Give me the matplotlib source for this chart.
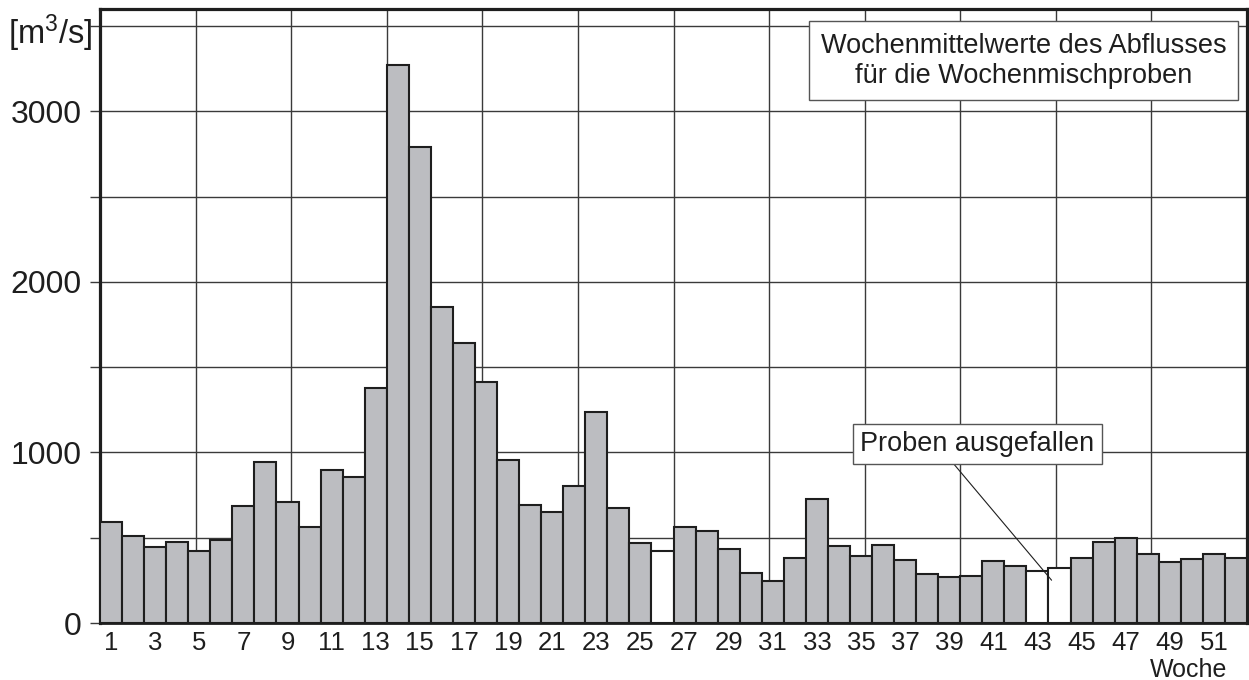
import matplotlib
matplotlib.use("Agg")
import matplotlib.pyplot as plt
import numpy as np

plt.rcParams['font.family'] = ['Liberation Sans', 'DejaVu Sans']
plt.rcParams['mathtext.fontset'] = 'custom'
plt.rcParams['mathtext.rm'] = 'Liberation Sans'
plt.rcParams['mathtext.it'] = 'Liberation Sans'

# Data
weeks = list(range(1, 53))
discharge = [593, 513, 444, 476, 425, 487, 685, 945, 710, 562,
             895, 854, 1380, 3273, 2791, 1852, 1641, 1412, 953, 689,
             652, 803, 1239, 672, 472, 421, 560, 538, 433, 296,
             247, 380, 728, 454, 392, 456, 372, 286, 268, 274,
             364, 337, 305, 321, 384, 474, 499, 407, 360, 376,
             407, 380]
missing_weeks = [26, 43, 44]
xtick_weeks = list(range(1, 53, 2))
ytick_values = [0, 500, 1000, 1500, 2000, 2500, 3000, 3500]
ytick_labels = ['0', '', '1000', '', '2000', '', '3000', '']

legend_text = "Wochenmittelwerte des Abflusses\nfür die Wochenmischproben"
note_text = "Proben ausgefallen"
ylabel_text = r"[m$^3$/s]"
xlabel_text = "Woche"

BAR = '#bcbdc1'
INK = '#1e1e1e'
GRID = '#3a3a3a'

fig = plt.figure(figsize=(12.49, 6.8), dpi=100)
ax = fig.add_axes([0.0801, 0.0838, 0.9183, 0.9030])

colors = ['white' if w in missing_weeks else BAR for w in weeks]
ax.bar(weeks, discharge, width=1.0, color=colors, edgecolor=INK, linewidth=1.5, zorder=3)

ax.set_xlim(0.5, 52.5)
ax.set_ylim(0, 3600)

# grid: horizontal every 500, vertical in 12 equal divisions
for yv in ytick_values[1:]:
    ax.axhline(yv, color=GRID, lw=1.0, zorder=1)
for k in range(1, 12):
    ax.axvline(0.5 + k * 52 / 12, color=GRID, lw=1.0, zorder=1)

ax.set_yticks(ytick_values)
ax.set_yticklabels(ytick_labels, fontsize=23, color=INK)
ax.tick_params(axis='y', length=7.5, width=1.0, color=GRID, pad=6)
ax.set_xticks(xtick_weeks)
ax.set_xticklabels([str(w) for w in xtick_weeks], fontsize=18.5, color=INK)
ax.tick_params(axis='x', length=0, pad=6)

for side in ['top', 'right', 'left']:
    ax.spines[side].set_linewidth(2.3)
    ax.spines[side].set_color(INK)
ax.spines['bottom'].set_linewidth(2.0)
ax.spines['bottom'].set_color(INK)

ax.text(-0.007, 3455, ylabel_text, transform=ax.get_yaxis_transform(),
        ha='right', va='center', fontsize=23.5, color=INK)
ax.text(49.85, -0.088, xlabel_text, transform=ax.get_xaxis_transform(),
        ha='center', va='baseline', fontsize=18, color=INK)

ax.text(0.8051, 0.9155, legend_text, transform=ax.transAxes, ha='center', va='center',
        fontsize=19.5, color=INK, linespacing=1.22, zorder=5,
        bbox=dict(boxstyle='square,pad=0.42', facecolor='white', edgecolor='#555555', lw=1.0))

ax.annotate(note_text, xy=(43.64, 251), xytext=(40.27, 1049),
            ha='center', va='center', fontsize=19.5, color=INK, zorder=5,
            bbox=dict(boxstyle='square,pad=0.27', facecolor='white', edgecolor='#555555', lw=1.0),
            arrowprops=dict(arrowstyle='-', color=INK, lw=0.8, relpos=(0.375, 0.0),
                            shrinkA=0, shrinkB=0))

fig.savefig('out.png', dpi=100)
